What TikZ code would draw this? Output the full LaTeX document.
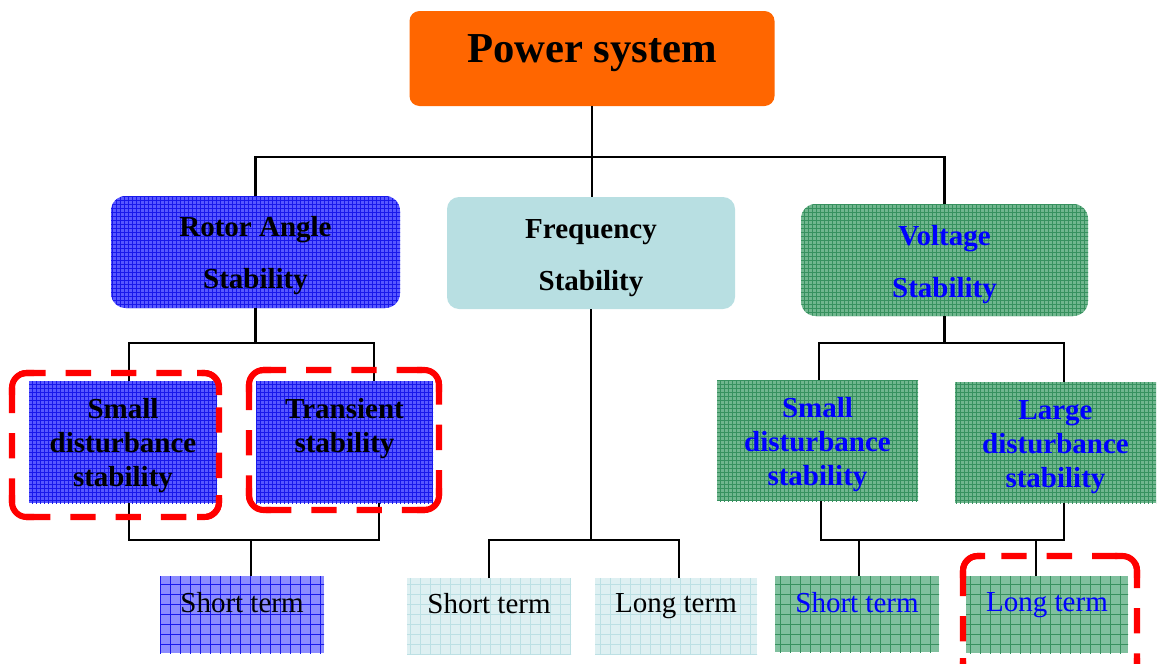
\documentclass[tikz,border=0pt]{standalone}
\usepackage{fontspec}
\setmainfont{Liberation Serif}
\usetikzlibrary{patterns.meta}
\definecolor{psorange}{RGB}{255,102,0}
\definecolor{rablue}{RGB}{88,88,255}
\definecolor{ralines}{RGB}{25,25,235}
\definecolor{stblue}{RGB}{140,140,255}
\definecolor{fscyan}{RGB}{184,223,226}
\definecolor{fslight}{RGB}{222,240,242}
\definecolor{fslines}{RGB}{188,224,228}
\definecolor{vsgreen}{RGB}{112,182,142}
\definecolor{vslines}{RGB}{55,145,95}
\definecolor{vtgreen}{RGB}{128,192,158}
\definecolor{txtblue}{RGB}{0,0,255}
\tikzset{
  conn/.style={line width=1.6pt},
  boxbase/.style={inner sep=0pt, outer sep=0pt, align=center},
  finegrid/.style 2 args={fill=#1, postaction={pattern={Hatch[angle=0,distance=3pt,line width=0.35pt]}, pattern color=#2}},
  coarsegrid/.style 2 args={fill=#1, postaction={pattern={Hatch[angle=0,distance=7.5pt,line width=0.6pt]}, pattern color=#2}},
  headfont/.style={align=center, font=\fontsize{21.75}{39}\selectfont\bfseries},
  subfont/.style={align=center, font=\fontsize{21.75}{25.5}\selectfont\bfseries},
  termfont/.style={font=\fontsize{21.75}{26}\selectfont},
  redmark/.style={draw=red, line width=4.6pt, dash pattern=on 19pt off 15pt, rounded corners=11pt},
  redcorner/.style={draw=red, line width=4.6pt, rounded corners=11pt},
}
\begin{document}
\begin{tikzpicture}[x=0.75pt, y=-0.75pt]
\useasboundingbox (0,0) rectangle (1157,664);
% top
\node[boxbase, fill=psorange, rounded corners=7.5pt, minimum width=273.75pt, minimum height=71.25pt] (ps) at (592,58.5) {};
\node[font=\fontsize{32}{38}\selectfont\bfseries] (psT) at (592,53) {Power system};
% second level
\node[boxbase, finegrid={rablue}{ralines}, rounded corners=11pt, minimum width=216.75pt, minimum height=84pt] (ra) at (255.5,252) {};
\node[headfont] (raT) at (255.5,256) {Rotor Angle\\Stability};
\node[boxbase, fill=fscyan, rounded corners=9pt, minimum width=216pt, minimum height=84pt] (fs) at (591,253) {};
\node[headfont] (fsT) at (591,258) {Frequency\\Stability};
\node[boxbase, finegrid={vsgreen}{vslines}, rounded corners=11pt, minimum width=215.25pt, minimum height=84pt] (vs) at (944.5,260) {};
\node[headfont, text=txtblue] (vsT) at (944.5,265) {Voltage\\Stability};
% third level
\node[boxbase, finegrid={rablue}{ralines}, minimum width=141pt, minimum height=91.5pt] (sdA) at (123,442) {};
\node[subfont] (sdT) at (123,446) {Small\\disturbance\\stability};
\node[boxbase, finegrid={rablue}{ralines}, minimum width=132.75pt, minimum height=91.5pt] (tsA) at (344.5,442) {};
\node[subfont] (tsT) at (344.5,429) {Transient\\stability};
\node[boxbase, finegrid={vsgreen}{vslines}, minimum width=150.75pt, minimum height=90.75pt] (vgS) at (817.5,440.5) {};
\node[subfont, text=txtblue] (vgST) at (817.5,445) {Small\\disturbance\\stability};
\node[boxbase, finegrid={vsgreen}{vslines}, minimum width=150.75pt, minimum height=90.75pt] (vgL) at (1055.5,442.5) {};
\node[subfont, text=txtblue] (vgLT) at (1055.5,447) {Large\\disturbance\\stability};
% bottom level
\node[boxbase, coarsegrid={stblue}{ralines}, minimum width=123pt, minimum height=57.75pt] (stA) at (242,614.5) {};
\node[termfont] (stT) at (242,603) {Short term};
\node[boxbase, coarsegrid={fslight}{fslines}, minimum width=123pt, minimum height=57pt] (fsS) at (489,616) {};
\node[termfont] (fsST) at (489,604) {Short term};
\node[boxbase, coarsegrid={fslight}{fslines}, minimum width=121.5pt, minimum height=57pt] (fsL) at (676,616) {};
\node[termfont] (fsLT) at (676,606) {Long term};
\node[boxbase, coarsegrid={vtgreen}{vslines}, minimum width=123pt, minimum height=57pt] (vtS) at (857,614) {};
\node[termfont, text=txtblue] (vtST) at (857,603) {Short term};
\node[boxbase, coarsegrid={vtgreen}{vslines}, minimum width=121.5pt, minimum height=57.75pt] (vtL) at (1047,614.5) {};
\node[termfont, text=txtblue] (vtLT) at (1047,605) {Long term};
% junctions
\coordinate (psJ) at (592,157);
\coordinate (raJ) at (255.5,343);
\coordinate (raK) at (251,540);
\coordinate (fsK) at (591,540);
\coordinate (vsJ) at (944.5,343);
\coordinate (vsK) at (944,540);
% connectors
\draw[conn] (ps.south) -- (ps.south |- fs.north);
\draw[conn] (ra.north) |- (psJ) -| (vs.north);
\draw[conn] (ra.south) -- (raJ);
\draw[conn] ([xshift=4.5pt]sdA.north) |- (raJ) -| ([xshift=22pt]tsA.north);
\draw[conn] ([xshift=4.5pt]sdA.south) |- (raK) -| ([xshift=26pt]tsA.south);
\draw[conn] (raK) -- (raK |- stA.north);
\draw[conn] (fs.south) -- (fsK);
\draw[conn] (fsS.north) |- (fsK) -| ([xshift=2.25pt]fsL.north);
\draw[conn] (vs.south) -- (vsJ);
\draw[conn] ([xshift=1.1pt]vgS.north) |- (vsJ) -| ([xshift=6.4pt]vgL.north);
\draw[conn] ([xshift=2.6pt]vgS.south) |- (vsK) -| ([xshift=6.4pt]vgL.south);
\draw[conn] ([xshift=1.5pt]vtS.north) -- ([xshift=1.5pt]vtS.north |- vsK);
\draw[conn] ([xshift=-8.25pt]vtL.north) -- ([xshift=-8.25pt]vtL.north |- vsK);
% red marks
\foreach \xa/\ya/\xb/\yb in {12/373/219/517, 249/370/439/510, 963/556/1137/680} {
  \draw[redmark] (\xa,\ya) rectangle (\xb,\yb);
  \draw[redcorner] (\xa,\ya+22) |- (\xa+22,\ya);
  \draw[redcorner] (\xb-22,\ya) -| (\xb,\ya+22);
  \draw[redcorner] (\xb,\yb-22) |- (\xb-22,\yb);
  \draw[redcorner] (\xa+22,\yb) -| (\xa,\yb-22);
}
\end{tikzpicture}
\end{document}
